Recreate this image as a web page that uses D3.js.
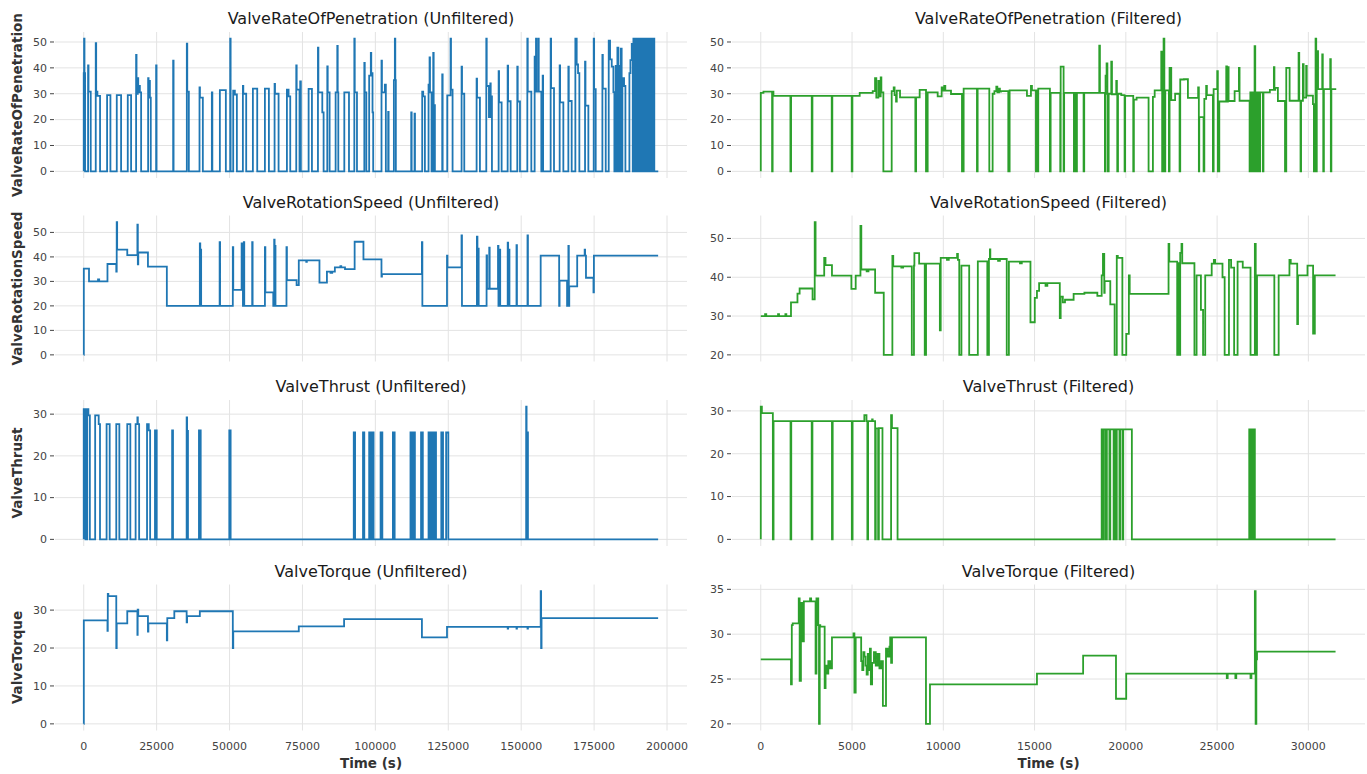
<!DOCTYPE html>
<html>
<head>
<meta charset="utf-8">
<script src="https://cdn.jsdelivr.net/npm/d3@7"></script>
<style>
body { margin: 0; background: #fff; }
text { font-family: "DejaVu Sans", sans-serif; }
</style>
</head>
<body>
<div id="chart"></div>
<script>
// step series: [time (s), value] change points

var ropRaw = [[0,0],[0,38],[120,51.3],[260,38],[460,0],
  [1490,41],[1640,30.8],[2400,0],
  [4120,49.6],[4270,30.8],[4690,29.2],[5600,0],
  [8010,29.5],[9150,0],[11330,29.5],[12810,0],[15100,29.5],[16240,0],
  [17960,45],[18110,30],[18540,36],[18690,30.5],[19100,33],[19250,30.5],[19680,0],
  [22080,36],[22230,30],[22540,35],[22690,28.5],[22990,0],
  [24820,41],[24970,0],[30660,42.8],[30810,0],
  [35350,49.4],[35500,30.8],[36040,0],
  [39700,32.5],[39850,28.5],[40840,0],
  [43930,30.5],[44100,0],[46680,31.4],[48730,0],[50220,51.3],[50370,0],
  [51250,31.2],[51820,29.7],[52510,0],
  [54570,33],[54720,30],[55710,0],
  [58000,32],[59490,0],[62120,32],[63490,0],
  [65440,33.8],[65590,30],[66810,0],
  [69670,31.6],[70240,29],[70810,0],
  [72870,41],[73020,31.6],[73990,0],[74220,34.8],[74450,0],
  [77110,31.9],[78250,0],
  [80310,47.8],[80460,30.5],[81800,22.8],[82250,0],
  [83510,40.6],[83660,30.5],[84310,0],
  [86370,30.5],[86940,48.5],[87090,30.5],[87290,0],
  [89350,30.5],[90950,0],
  [92780,51.3],[92930,30.5],[93690,0],
  [96210,41.9],[96360,30.5],[96900,0],
  [97870,37],[98440,45.8],[98590,38],[99020,22.8],[99250,0],
  [102100,42.8],[102250,30.5],[103250,33.5],[103590,0],
  [104390,23],[104540,0],
  [106340,35.3],[106680,51.3],[106830,35.3],[107020,0],
  [112290,22.8],[112440,0],[113430,22.3],[113580,0],
  [116060,30.8],[116400,29],[116980,0],
  [118230,33.5],[118580,44],[118730,30.5],[119260,0],
  [119840,45.8],[119990,25.6],[120410,0],
  [122920,37.5],[123070,0],
  [124640,29.4],[125780,51.3],[125930,31.6],[126470,0],
  [129560,40.5],[129710,30],[130480,0],
  [134710,35.8],[134860,28.5],[135850,0],
  [138030,51.3],[138180,33],[138940,21],[139400,34],[139550,29],[139970,0],
  [142260,38.7],[142410,26.7],[143290,0],
  [145350,40.9],[145500,27.1],[146380,0],
  [148660,40.5],[148810,27],[149580,0],
  [152100,51.3],[152250,30.8],[153470,0],
  [154610,44.3],[154760,30.8],[155070,51.3],[155220,30.8],[155870,51.3],[156020,30.8],[156900,0],[157360,37],[157510,0],
  [160100,51.3],[160250,32.2],[161250,0],
  [163190,41],[163340,26.7],[164450,0],
  [166170,40.5],[166320,27.2],[167310,0],
  [168570,51.3],[169030,41.3],[169490,38],[169940,0],
  [171890,42.4],[172040,25.4],[173030,0],
  [174860,51.3],[175010,31.8],[175550,0],
  [177840,45],[177990,32],[178980,0],
  [180010,50.5],[180470,43.3],[181040,40.5],[181610,30.6],[181950,0],
  [182410,40.8],[182750,0],[182980,47.8],[183300,0],[183560,40.8],[183900,0],[184130,47.4],[184450,0],[184700,36],[185270,33],[185730,0],
  [187100,38],[187450,43],[187900,49.3],[188250,0],
  [188470,51.3],[188770,0],[189270,51.3],[189570,0],[190190,51.3],[190490,0],[190760,51.3],[191060,0],
  [191330,51.3],[191630,0],[191900,51.3],[192200,0],[192480,51.3],[192780,0],[193050,51.3],[193350,0],
  [193620,51.3],[193920,0],[194190,51.3],[194490,0],[194760,51.3],[195060,0],[195340,51.3],[195640,0],
  [197000,0]];

var ropFilt = [[0,0],[0,30.3],[146,30.8],[620,0],[650,30.8],[694,29.2],[1624,0],[1660,29.2],[2792,0],[2830,29.2],
  [3887,0],[3920,29.2],[4982,0],[5020,29.2],[5420,30.3],[6132,31],[6260,36],[6330,28.5],[6442,35],[6500,29],
  [6570,36.3],[6607,30.5],[6716,0],[7172,31],[7282,32.5],[7330,29.5],[7410,27],[7450,31.2],[7629,28.6],[8468,0],
  [8510,28.6],[8705,31.5],[9052,0],[9143,30.5],[9691,29],[9910,32.5],[9990,31.2],[10050,33],[10110,31.2],[10421,29.9],
  [11023,0],[11114,32],[11844,0],[11881,32],[12520,0],[12702,30],[12800,31],[12903,32.7],[12960,30.5],[13050,32],
  [13100,30.8],[13158,31],[13560,0],[13633,31.3],[14582,29.2],[14801,33],[14856,31.3],[15075,0],[15110,31.3],[15148,0],
  [15202,32],[15841,0],[15880,30.3],[16407,0],[16430,40.5],[16590,0],[16620,30.3],[17156,0],[17190,30.3],[17284,0],
  [17320,30.3],[17685,0],[17720,30.3],[18544,48.6],[18580,30.3],[18854,0],[18890,37],[18945,41.7],[18990,30],[19018,0],
  [19060,30],[19201,42.4],[19240,29.8],[19475,35],[19510,29.8],[19530,0],[19570,30],[19750,29.5],[19931,0],[19960,29.2],
  [20406,0],[20440,27.7],[20590,28.5],[21246,0],[21483,28.8],[21580,31.3],[21940,46.3],[21990,0],[22030,31.3],[22068,51.3],
  [22110,31.3],[22120,0],[22160,31.3],[22360,0],[22396,40],[22488,27.5],[22700,30],[22944,0],[22980,35.5],[23182,35.6],
  [23401,28.4],[23960,32.5],[24000,0],[24022,21],[24259,0],[24300,28],[24400,33],[24440,29.5],[24770,0],[24810,31.8],
  [25007,38.7],[25040,0],[25120,27],[25500,40.6],[25540,27],[25590,40.3],[25630,27.2],[25960,31],[26195,40],[26230,27.3],
  [26780,0],[26820,30.5],[26870,0],[26910,30.5],[26970,0],[27000,30.5],[27053,48.4],[27090,0],[27140,30.5],[27230,0],
  [27260,30.5],[27330,0],[27360,30.5],[27510,0],[27540,30.5],[27890,31.5],[28110,40.3],[28140,31.5],[28185,32.3],[28330,27.2],
  [28720,0],[28789,40],[28972,27.3],[29464,45.8],[29500,27.3],[29570,0],[29600,27.3],[29700,41.4],[29740,28.5],[29880,40.8],
  [29910,29.3],[30250,26],[30303,0],[30394,51.3],[30430,0],[30460,46.5],[30530,31.8],[30760,45.2],[30790,31.8],[30815,0],
  [30850,31.8],[31198,43.4],[31230,0],[31260,31.8],[31526,31.8]];

var rotRaw = [[0,0],[30,35.2],[1810,30],[4900,30.8],[5300,30],[8140,37.1],[11160,34],[11310,54.2],[11460,43],[14930,40.7],
  [18400,53.2],[18550,37],[18700,41.8],[22020,36],[28500,20],[39810,45.5],[39960,20],[40110,43],[40260,20],[46600,46],
  [46750,20],[51120,44],[51270,26.5],[54140,45.5],[54290,26.5],[54590,20],[54890,46],[55040,20],[57760,46],[57910,20],
  [62130,44],[62280,25.5],[64990,20],[65300,47],[65450,20],[65600,44.5],[65750,20],[69520,44],[69670,30.5],[72990,28.5],
  [73740,38.6],[76300,38],[76500,38.6],[80830,29.5],[83390,34],[84600,33.5],[85200,34],[86110,35.7],[88000,36.2],[88300,35.7],
  [89580,35],[92890,46.2],[95910,39],[102090,32],[102250,33],[115960,46],[116110,20],[124560,40.5],[124710,35.7],[129540,48.8],
  [129690,20],[134820,48.3],[135000,20],[135270,43.4],[135420,20],[138130,40.6],[138280,27],[139040,43.8],[139190,27],[142050,44.5],
  [142200,20],[142650,43],[142800,20],[145370,45.8],[145520,20],[145820,43],[145970,20],[148390,44.8],[148540,20],[152160,48.8],
  [152310,20],[156680,40.5],[163010,20],[163160,30.3],[165730,20],[166180,44.5],[166330,20],[166480,28],[169200,40.5],[171760,43],
  [171910,40.5],[172210,31.5],[174780,25.5],[174930,40.5],[196950,40.5]];

var rotFilt = [[0,30],[236,30.5],[300,30],[946,30.5],[1000,30],[1348,30.5],[1400,30],[1655,33.5],[2010,35.8],[2128,37.1],
  [2837,34.3],[2955,54.2],[3002,40.4],[3475,45],[3546,43.1],[3900,40.4],[4964,37],[5200,40.4],[5461,53.2],[5508,42],
  [5800,41.5],[5900,42],[6265,36],[6737,20],[7210,45.5],[7258,42.8],[7700,42.5],[7800,42.8],[8274,20],[8392,43],
  [8416,46.2],[8676,43.5],[8983,20],[9054,43.5],[9811,26.3],[9858,45],[10200,44.5],[10300,45],[10756,46],[10800,44.5],
  [10874,20],[10993,43],[11418,20],[11891,44.1],[12411,20],[12500,44.7],[12553,47.2],[12576,44.7],[13000,44.2],[13100,44.7],
  [13475,20],[13593,44],[14200,43.6],[14300,44],[14775,28.4],[15011,34.7],[15130,36.5],[15248,38.5],[15600,37.8],[15700,38.5],
  [16382,29.5],[16430,35],[16548,33.5],[16666,34.2],[17139,35.7],[17730,36],[18439,35.2],[18676,40.5],[18746,46],[18817,36],
  [18841,39],[19148,33],[19385,20],[19503,45.5],[19560,45],[19810,20],[20023,25.4],[20165,40.5],[20212,35.7],[22340,48.6],
  [22380,44],[22813,20],[22850,43.6],[22931,20],[22978,46.3],[23049,48.6],[23090,43.6],[23758,20],[23876,40.5],[24113,31.6],
  [24231,20],[24349,40.5],[24704,43.5],[24822,44.5],[24893,43.5],[25295,40],[25413,20],[25649,44.5],[25767,42.5],[25933,20],
  [26122,44],[26405,42.5],[26831,20],[27068,48.6],[27116,20],[27186,40.5],[28135,20],[28372,40.5],[28963,44.5],[29034,43.5],
  [29389,27.9],[29432,40.5],[29952,43],[30259,25.5],[30354,40.5],[31489,40.5]];

var thrRaw = [[0,0],[0,31.2],[600,0],[1200,31.2],[1600,29.7],[2100,0],[3920,29.7],[5130,27.6],[5580,0],[7840,27.6],
  [8900,0],[11160,27.6],[12210,0],[14930,27.6],[15980,0],[17790,27.6],[18400,29.2],[18550,27.6],[19000,0],[21710,27.6],
  [22300,26.1],[22770,0],[24430,26.1],[25030,0],[30310,26.1],[30610,0],[35290,29.2],[35440,26],[35740,0],[39510,26.1],
  [40110,0],[49910,26.1],[50370,0],[92590,25.6],[93040,0],[95760,25.6],[96200,0],[97870,25.6],[98300,0],[98800,25.6],
  [99380,0],[101790,25.6],[102000,0],[102100,25.6],[102390,0],[106010,25.6],[106610,0],[112040,25.6],[112600,0],[113100,25.6],
  [113550,0],[115660,25.6],[116270,0],[118230,25.6],[118800,0],[119200,25.6],[119740,0],[120190,25.6],[120790,0],[122600,25.6],
  [123200,0],[124260,25.6],[125010,0],[151700,31.8],[151850,25.6],[152310,0],[196950,0]];

var thrFilt = [[0,0],[0,31],[60,29.5],[662,0],[700,27.6],[1631,0],[1670,27.6],[2790,0],[2830,27.6],[3900,0],
  [3940,27.6],[4988,0],[5030,27.6],[5674,29],[5792,27.6],[5840,0],[5880,27.6],[6099,28],[6130,27.6],[6265,0],
  [6300,25.9],[6430,0],[6470,26],[6667,0],[7139,29],[7187,26],[7494,0],[18676,25.7],[18760,0],[18794,25.7],
  [18900,0],[18960,25.7],[19100,0],[19148,25.7],[19330,0],[19385,25.7],[19470,0],[19503,25.7],[19650,0],[19692,25.7],
  [19820,0],[19858,25.7],[20330,0],[26760,25.7],[26800,0],[26831,25.7],[26870,0],[26902,25.7],[26940,0],[26973,25.7],
  [27068,0],[31489,0]];

var torRaw = [[0,0],[30,27.3],[8140,24.5],[8250,34.3],[8440,33.7],[11160,20],[11310,26.5],[14930,29.7],[18400,23.5],[18500,30.1],
  [18700,28.4],[22020,24.3],[22170,26.5],[28500,22],[28650,27.9],[31060,29.7],[35290,26.8],[35440,28.4],[39810,29.7],[51120,20],
  [51270,24.4],[73740,25.7],[89270,27.6],[115960,22.8],[124560,25.6],[145370,25.1],[145520,25.6],[148390,25.1],[148540,25.6],[152160,25.1],
  [152310,25.6],[156680,35],[156830,20],[156980,27.9],[196950,27.9]];

var torFilt = [[0,27.2],[1655,24.4],[1700,31],[1750,31.2],[2080,34],[2130,24.8],[2200,33.5],[2300,29.2],[2360,33.65],[2700,34],
  [2760,33.65],[3002,25.6],[3050,34],[3150,31],[3190,20],[3230,31],[3260,30.85],[3500,24],[3550,26.5],[3650,25.6],
  [3700,27],[3800,26.2],[3900,29.65],[5080,30.1],[5130,23.5],[5200,29.65],[5500,27],[5560,26],[5620,28],[5680,27.5],
  [5740,26.5],[5800,25.5],[5860,27.8],[5920,26],[5980,28.4],[6030,24.4],[6100,26.8],[6200,28],[6300,26.5],[6400,27.8],
  [6500,26.2],[6600,27],[6690,22],[6860,28.4],[6950,27.5],[7050,28.6],[7090,29.65],[7140,26.8],[7190,29.65],[9050,20],
  [9270,24.4],[15130,25.6],[17660,27.6],[19460,22.8],[20020,25.6],[25530,25.1],[25580,25.6],[26000,25.1],[26050,25.6],[26830,25.1],
  [26880,25.6],[27068,34.8],[27110,20],[27150,27.2],[27186,28.05],[31489,28.05]];

var titles = ["ValveRateOfPenetration", "ValveRotationSpeed", "ValveThrust", "ValveTorque"];
var xTicksRaw = [0, 25000, 50000, 75000, 100000, 125000, 150000, 175000, 200000];
var xTicksFilt = [0, 5000, 10000, 15000, 20000, 25000, 30000];
var yTicks = [
  [[0,10,20,30,40,50], [0,10,20,30,40,50]],
  [[0,10,20,30,40,50], [20,30,40,50]],
  [[0,10,20,30], [0,10,20,30]],
  [[0,10,20,30], [20,25,30,35]]
];
var rawSeries = [ropRaw, rotRaw, thrRaw, torRaw];
var filtSeries = [ropFilt, rotFilt, thrFilt, torFilt];

var width = 1367, height = 774;
var cols = [{x0: 55, x1: 687}, {x0: 732, x1: 1365}];
var rowTop = [32, 215.5, 400, 584.5], rowH = 146;

var svg = d3.select("#chart").append("svg")
  .attr("width", width)
  .attr("height", height);

// matplotlib style 5% margins
function padded(ext) {
  var d = (ext[1] - ext[0]) * 0.05;
  return [ext[0] - d, ext[1] + d];
}

var colSeries = [rawSeries, filtSeries];
var colTicks = [xTicksRaw, xTicksFilt];
var colColor = ["#1f77b4", "#2ca02c"];
var colTag = ["Unfiltered", "Filtered"];

colSeries.forEach(function(series, c) {
  var xMax = d3.max(series, function(s){ return d3.max(s, function(d){ return d[0]; }); });
  var x = d3.scaleLinear().domain(padded([0, xMax])).range([cols[c].x0, cols[c].x1]);

  series.forEach(function(data, r) {
    var top = rowTop[r], bottom = top + rowH;
    var y = d3.scaleLinear()
      .domain(padded(d3.extent(data, function(d){ return d[1]; })))
      .range([bottom, top]);

    var g = svg.append("g");

    // grid
    g.selectAll(".hg").data(yTicks[r][c]).enter().append("line")
      .attr("x1", cols[c].x0).attr("x2", cols[c].x1)
      .attr("y1", function(d){ return y(d); }).attr("y2", function(d){ return y(d); })
      .attr("stroke", "#e3e3e3").attr("stroke-width", 1);
    g.selectAll(".vg").data(colTicks[c]).enter().append("line")
      .attr("x1", function(d){ return x(d); }).attr("x2", function(d){ return x(d); })
      .attr("y1", top).attr("y2", bottom)
      .attr("stroke", "#e3e3e3").attr("stroke-width", 1);

    // y ticks
    g.selectAll(".yt").data(yTicks[r][c]).enter().append("line")
      .attr("x1", cols[c].x0 - 5).attr("x2", cols[c].x0 - 1)
      .attr("y1", function(d){ return y(d); }).attr("y2", function(d){ return y(d); })
      .attr("stroke", "#444").attr("stroke-width", 1);
    g.selectAll(".yl").data(yTicks[r][c]).enter().append("text")
      .attr("x", cols[c].x0 - 8)
      .attr("y", function(d){ return y(d); })
      .attr("dy", "0.35em")
      .attr("text-anchor", "end")
      .attr("font-size", "11px")
      .attr("fill", "#444")
      .text(function(d){ return d; });

    // line
    var line = d3.line()
      .x(function(d){ return x(d[0]); })
      .y(function(d){ return y(d[1]); })
      .curve(d3.curveStepAfter);
    g.append("path")
      .datum(data)
      .attr("d", line)
      .attr("fill", "none")
      .attr("stroke", colColor[c])
      .attr("stroke-width", 1.8)
      .attr("stroke-linejoin", "miter");

    // title
    g.append("text")
      .attr("x", (cols[c].x0 + cols[c].x1) / 2)
      .attr("y", top - 8)
      .attr("text-anchor", "middle")
      .attr("font-size", "16px")
      .attr("fill", "#1a1a1a")
      .text(titles[r] + " (" + colTag[c] + ")");

    if (c == 0) {
      g.append("text")
        .attr("transform", "translate(22," + (top + rowH / 2) + ")rotate(-90)")
        .attr("text-anchor", "middle")
        .attr("font-size", "13.5px")
        .attr("font-weight", "bold")
        .attr("fill", "#333")
        .text(titles[r]);
    }

    if (r == 3) {
      g.selectAll(".xl").data(colTicks[c]).enter().append("text")
        .attr("x", function(d){ return x(d); })
        .attr("y", bottom + 19)
        .attr("text-anchor", "middle")
        .attr("font-size", "11px")
        .attr("fill", "#444")
        .text(function(d){ return d; });
      g.append("text")
        .attr("x", (cols[c].x0 + cols[c].x1) / 2)
        .attr("y", bottom + 37)
        .attr("text-anchor", "middle")
        .attr("font-size", "13.5px")
        .attr("font-weight", "bold")
        .attr("fill", "#333")
        .text("Time (s)");
    }
  });
});
</script>
</body>
</html>
